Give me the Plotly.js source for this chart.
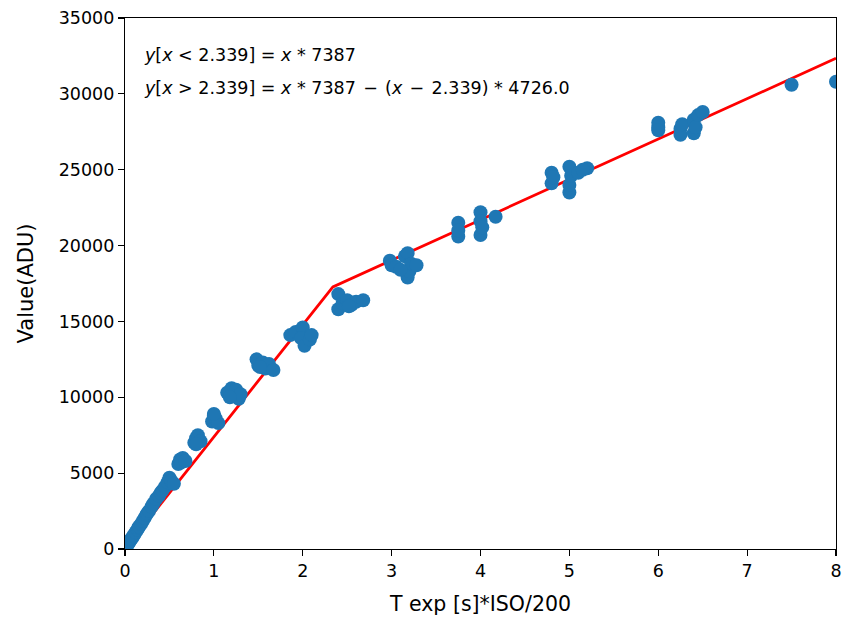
<!DOCTYPE html>
<html>
<head>
<meta charset="utf-8">
<script src="https://cdn.plot.ly/plotly-3.0.1.min.js"></script>
<style>html,body{margin:0;padding:0;background:#fff}#chart{width:843px;height:630px}</style>
</head>
<body>
<div id="chart"></div>
<script>
// measured points: T exp [s]*ISO/200 vs Value(ADU)
const expX = [
  0.01,0.02,0.03,0.04,0.05,0.06,0.07,0.08,0.09,0.10,0.12,0.14,0.15,0.16,0.18,0.20,0.22,0.24,0.25,0.27,0.30,0.32,0.35,0.38,0.40,0.42,0.45,
  0.48,0.50,0.52,0.55,
  0.60,0.62,0.65,0.63,0.68,
  0.78,0.80,0.82,0.85,0.80,
  0.98,1.00,1.02,1.05,1.00,
  1.15,1.20,1.22,1.25,1.28,1.30,1.18,
  1.48,1.50,1.55,1.58,1.62,1.67,1.52,
  1.86,1.92,2.00,1.98,2.02,2.08,2.10,
  2.40,2.40,2.45,2.50,2.55,2.60,2.68,2.52,
  2.98,3.00,3.05,3.15,3.18,3.18,3.20,3.22,3.28,3.10,
  3.75,3.75,3.75,
  4.00,4.00,4.00,4.02,4.17,
  4.80,4.80,4.82,
  5.00,5.00,5.00,5.02,5.10,5.20,5.15,
  6.00,6.00,6.00,
  6.25,6.25,6.27,
  6.40,6.40,6.42,6.45,
  6.50,
  7.50,
  8.00
];
const valueADU = [
  100,200,300,380,480,560,660,730,830,920,1100,1280,1400,1480,1650,1850,2050,2250,2350,2500,2800,3000,3300,3500,3700,3850,4100,
  4400,4700,4500,4300,
  5600,5900,6000,5700,5800,
  7000,7300,7500,7100,6900,
  8400,8800,8600,8300,8900,
  10300,10600,10100,10500,9900,10200,10000,
  12500,12100,12300,11900,12200,11800,12000,
  14100,14300,14600,13900,13400,13800,14100,
  16800,15800,16200,16400,16100,16300,16400,16000,
  19000,18700,18600,19300,19500,17900,18300,18800,18700,18400,
  21500,20600,21000,
  22200,21600,20700,21200,21900,
  24800,24100,24500,
  25200,23500,24000,24600,24800,25100,25000,
  27800,28100,27600,
  27700,27300,28000,
  28300,27400,27800,28600,
  28800,
  30600,
  30800
];
// piecewise fit line
const fitX = [0, 2.339, 8];
const fitY = [0, 17278, 32342];

const xTicks = [0,1,2,3,4,5,6,7,8];
const yTicks = [0,5000,10000,15000,20000,25000,30000,35000];

const font = 'DejaVu Sans, sans-serif';

const traces = [
  {x: fitX, y: fitY, type: 'scatter', mode: 'lines',
   line: {color: '#ff0000', width: 2.8}, hoverinfo: 'skip', showlegend: false},
  {x: expX, y: valueADU, type: 'scatter', mode: 'markers',
   marker: {color: '#1f77b4', size: 14, line: {width: 0}}, showlegend: false}
];

const axisCommon = {
  showgrid: false, zeroline: false, showline: true, linecolor: '#000', linewidth: 1.2,
  mirror: true, ticks: 'outside', ticklen: 6, tickwidth: 1.2, tickcolor: '#000',
  tickfont: {family: font, size: 17.5, color: '#000'}
};

const sp = '&#8202;';
const layout = {
  width: 843, height: 630,
  margin: {l: 125, r: 7, t: 18, b: 81},
  paper_bgcolor: '#fff', plot_bgcolor: '#fff',
  xaxis: Object.assign({}, axisCommon, {
    range: [0, 8], tickvals: xTicks, ticktext: xTicks.map(String),
    title: {text: 'T exp [s]*ISO/200', font: {family: font, size: 20.5, color: '#000'}, standoff: 16}
  }),
  yaxis: Object.assign({}, axisCommon, {
    range: [0, 35000], tickvals: yTicks, ticktext: yTicks.map(String),
    title: {text: 'Value(ADU)', font: {family: font, size: 21, color: '#000'}, standoff: 19}
  }),
  annotations: [
    {xref: 'paper', yref: 'paper', x: 0.024, y: 0.930, xanchor: 'left', yanchor: 'middle', showarrow: false,
     text: '<i>y</i>[<i>x</i> < 2.339] = <i>x</i> * 7387', font: {family: font, size: 17.5, color: '#000'}},
    {xref: 'paper', yref: 'paper', x: 0.024, y: 0.868, xanchor: 'left', yanchor: 'middle', showarrow: false,
     text: '<i>y</i>[<i>x</i> > 2.339] = <i>x</i> * 7387 ' + sp + '−' + sp + ' (<i>x</i> ' + sp + '−' + sp + ' 2.339) * 4726.0',
     font: {family: font, size: 17.5, color: '#000'}}
  ]
};

Plotly.newPlot('chart', traces, layout, {displayModeBar: false, staticPlot: true});
</script>
</body>
</html>
